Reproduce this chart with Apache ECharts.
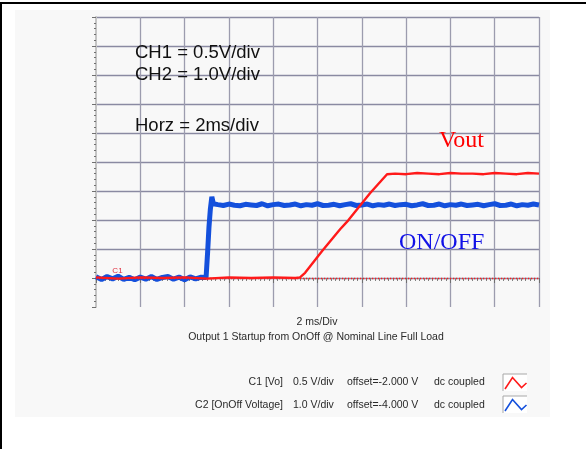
<!DOCTYPE html>
<html>
<head>
<meta charset="utf-8">
<script src="https://cdn.jsdelivr.net/npm/echarts@6/dist/echarts.min.js"></script>
<style>
  html, body { margin: 0; padding: 0; background: #ffffff; }
  #chart { width: 586px; height: 449px; }
</style>
</head>
<body>
<div id="chart"></div>
<script>
// Startup capture: time in ms, channel readings in volts.
// CH1 = Vo (0.5 V/div, offset -2.000 V), CH2 = OnOff voltage (1.0 V/div, offset -4.000 V)

const ch2Time = [
  0, 0.25, 0.5, 0.75, 1, 1.25, 1.5, 1.75, 2, 2.25, 2.5, 2.75, 3, 3.25, 3.5, 3.75, 4, 4.25, 4.5, 4.75,
  4.97, 5.04, 5.1, 5.16, 5.23, 5.3,
  5.5, 5.75, 6, 6.25, 6.5, 6.75, 7, 7.25, 7.5, 7.75,
  8, 8.25, 8.5, 8.75, 9, 9.25, 9.5, 9.75, 10, 10.25,
  10.5, 10.75, 11, 11.25, 11.5, 11.75, 12, 12.25, 12.5, 12.75,
  13, 13.25, 13.5, 13.75, 14, 14.25, 14.5, 14.75, 15, 15.25,
  15.5, 15.75, 16, 16.25, 16.5, 16.75, 17, 17.25, 17.5, 17.75,
  18, 18.25, 18.5, 18.75, 19, 19.25, 19.5, 19.75, 20
];
const ch2Volt = [
  0.04, -0.05, 0.05, -0.03, 0.06, -0.05, 0.02, -0.06, 0.03, -0.04, 0.05, -0.05, 0.02, 0.05, -0.04, 0.03, -0.06, 0.04, -0.03, 0.03,
  0.02, 0.9, 1.75, 2.35, 2.8, 2.56,
  2.53, 2.50, 2.55, 2.51, 2.49, 2.54, 2.52, 2.50, 2.56, 2.49,
  2.53, 2.55, 2.50, 2.52, 2.55, 2.49, 2.53, 2.51, 2.56, 2.50,
  2.51, 2.54, 2.49, 2.53, 2.56, 2.50, 2.52, 2.55, 2.49, 2.53,
  2.51, 2.55, 2.50, 2.53, 2.54, 2.49, 2.52, 2.56, 2.50, 2.51,
  2.55, 2.49, 2.53, 2.51, 2.55, 2.50, 2.52, 2.54, 2.49, 2.53,
  2.56, 2.50, 2.51, 2.55, 2.49, 2.53, 2.51, 2.55, 2.52
];

const ch1Time = [
  0, 1, 2, 3, 4, 5, 6, 7, 8, 9,
  9.21, 9.44, 10.2, 11.02, 11.38, 11.78, 12.37, 13.14,
  13.5, 14, 14.5, 15, 15.5, 16, 16.5, 17, 17.5, 18, 18.5, 19, 19.5, 20
];
const ch1Volt = [
  0.01, -0.01, 0.01, 0.0, 0.01, -0.01, 0.01, 0.0, 0.01, 0.0,
  0.01, 0.09, 0.46, 0.84, 0.99, 1.18, 1.46, 1.79,
  1.80, 1.79, 1.81, 1.80, 1.79, 1.81, 1.80, 1.80, 1.79, 1.81, 1.80, 1.79, 1.81, 1.80
];

// Channel settings: volts per division and the scope offset
const ch1Scale = 0.5, ch1Offset = -2.0;
const ch2Scale = 1.0, ch2Offset = -4.0;

// Ground reference marker and its tag position for CH1
const ch1Ground = 0;
const ch1Tag = [0.97, 0.13];

const annotations = ['CH1 = 0.5V/div', 'CH2 = 1.0V/div', 'Horz = 2ms/div'];
const axisTitle = '2 ms/Div';
const plotTitle = 'Output 1 Startup from OnOff @ Nominal Line Full Load';
const legendRows = [
  ['C1 [Vo]', '0.5 V/div', 'offset=-2.000 V', 'dc coupled'],
  ['C2 [OnOff Voltage]', '1.0 V/div', 'offset=-4.000 V', 'dc coupled']
];

const RED = '#ff1a1a';
const BLUE = '#1450dc';
const GRID_H = '#8a8aa2';
const GRID_V = '#9c9cae';

function zip(t, v) { return t.map((x, i) => [x, v[i]]); }

// ten divisions each way; screen centre sits at -offset
function channelAxis(scale, offset, show) {
  const centre = -offset;
  return {
    type: 'value',
    position: 'left',
    min: centre - 5 * scale,
    max: centre + 5 * scale,
    interval: scale,
    show: show,
    axisLabel: { show: false },
    axisLine: { show: true, onZero: false, lineStyle: { color: '#c4c4c4', width: 2 } },
    axisTick: { show: true, length: 4, lineStyle: { color: '#707070', width: 1 } },
    minorTick: { show: true, splitNumber: 5, length: 2, lineStyle: { color: '#707070', width: 1 } },
    splitLine: {
      show: true,
      showMinLine: false,
      lineStyle: {
        color: [GRID_H, GRID_H, GRID_H, GRID_H, GRID_H, GRID_H, GRID_H, GRID_H, GRID_H, GRID_H, '#b8b8b8'],
        width: 1.3
      }
    }
  };
}

function legendIcon(y, color) {
  return [
    { type: 'rect', shape: { x: 503, y: y, width: 24, height: 17 },
      style: { fill: '#ffffff', stroke: null } },
    { type: 'polyline', shape: { points: [[503, y + 17], [503, y], [527, y]] },
      style: { stroke: '#a8a8a8', lineWidth: 1, fill: null } },
    { type: 'polyline', shape: { points: [[505, y + 15], [512.5, y + 3.5], [521.5, y + 13.5], [526.5, y + 9]] },
      style: { stroke: color, lineWidth: 1.6, fill: null } }
  ];
}

const smallFont = '10.5px "Liberation Sans", Arial, sans-serif';
const legendGraphics = [];
legendRows.forEach((row, i) => {
  const y = 382 + i * 23;
  legendGraphics.push(
    { type: 'text', style: { x: 283, y: y, text: row[0], font: smallFont, fill: '#2a2a2a', textAlign: 'right', textVerticalAlign: 'middle' } },
    { type: 'text', style: { x: 293, y: y, text: row[1], font: smallFont, fill: '#2a2a2a', textAlign: 'left', textVerticalAlign: 'middle' } },
    { type: 'text', style: { x: 347, y: y, text: row[2], font: smallFont, fill: '#2a2a2a', textAlign: 'left', textVerticalAlign: 'middle' } },
    { type: 'text', style: { x: 434, y: y, text: row[3], font: smallFont, fill: '#2a2a2a', textAlign: 'left', textVerticalAlign: 'middle' } }
  );
  legendGraphics.push(...legendIcon(374 + i * 22, i === 0 ? RED : BLUE));
});

const bigFont = '18.5px "Liberation Sans", Arial, sans-serif';
const serifFont = '24px "Liberation Serif", "Times New Roman", serif';

const chart = echarts.init(document.getElementById('chart'), null, { renderer: 'canvas' });

chart.setOption({
  animation: false,
  backgroundColor: '#ffffff',
  grid: { left: 96, top: 17, width: 443, height: 290, show: false },
  xAxis: {
    type: 'value',
    min: 0,
    max: 20,
    interval: 2,
    axisLabel: { show: false },
    axisLine: { show: false },
    axisTick: { show: true, length: 5, lineStyle: { color: '#707070', width: 1 } },
    minorTick: { show: true, splitNumber: 10, length: 3, lineStyle: { color: '#808080', width: 1 } },
    splitLine: {
      show: true,
      showMinLine: false,
      lineStyle: {
        color: [GRID_V, GRID_V, GRID_V, GRID_V, GRID_V, GRID_V, GRID_V, GRID_V, GRID_V, GRID_V, '#cfcfcf'],
        width: 1.3
      }
    }
  },
  yAxis: [
    channelAxis(ch1Scale, ch1Offset, true),
    channelAxis(ch2Scale, ch2Offset, false)
  ],
  series: [
    {
      name: 'C2 [OnOff Voltage]',
      type: 'line',
      yAxisIndex: 1,
      data: zip(ch2Time, ch2Volt),
      showSymbol: false,
      symbol: 'none',
      lineStyle: { color: BLUE, width: 5, join: 'bevel' },
      z: 3
    },
    {
      name: 'C1 [Vo]',
      type: 'line',
      yAxisIndex: 0,
      data: zip(ch1Time, ch1Volt),
      showSymbol: false,
      symbol: 'none',
      lineStyle: { color: RED, width: 2.4 },
      z: 4,
      markLine: {
        silent: true,
        symbol: ['none', 'none'],
        label: { show: false },
        lineStyle: { color: RED, type: [1.2, 1.8], width: 1.3 },
        data: [{ yAxis: ch1Ground }]
      },
      markPoint: {
        silent: true,
        symbol: 'circle',
        symbolSize: 1,
        itemStyle: { color: 'rgba(0,0,0,0)' },
        data: [{
          coord: ch1Tag,
          label: { show: true, formatter: 'C1', color: '#e03040', fontSize: 8, fontFamily: 'Liberation Sans', position: 'inside' }
        }]
      }
    }
  ],
  graphic: [
    // grey instrument panel
    { type: 'rect', z: -10, shape: { x: 15, y: 10, width: 535, height: 407 }, style: { fill: '#f8f8f8' } },
    // frame edges
    { type: 'rect', z: -5, shape: { x: 0, y: 2, width: 586, height: 2 }, style: { fill: '#000000' } },
    { type: 'rect', z: -5, shape: { x: 0, y: 2, width: 2, height: 447 }, style: { fill: '#000000' } },
    // scope annotations
    { type: 'text', z: 10, style: { x: 135, y: 53, text: annotations[0], font: bigFont, fill: '#111', textVerticalAlign: 'middle' } },
    { type: 'text', z: 10, style: { x: 135, y: 74.5, text: annotations[1], font: bigFont, fill: '#111', textVerticalAlign: 'middle' } },
    { type: 'text', z: 10, style: { x: 135, y: 126, text: annotations[2], font: bigFont, fill: '#111', textVerticalAlign: 'middle' } },
    { type: 'text', z: 10, style: { x: 439, y: 141, text: 'Vout', font: serifFont, fill: '#ff0000', textVerticalAlign: 'middle' } },
    { type: 'text', z: 10, style: { x: 399, y: 243, text: 'ON/OFF', font: serifFont, fill: '#1212e6', textVerticalAlign: 'middle' } },
    // captions under the plot
    { type: 'text', style: { x: 317, y: 322, text: axisTitle, font: smallFont, fill: '#2a2a2a', textAlign: 'center', textVerticalAlign: 'middle' } },
    { type: 'text', style: { x: 316, y: 337, text: plotTitle, font: smallFont, fill: '#2a2a2a', textAlign: 'center', textVerticalAlign: 'middle' } },
    ...legendGraphics
  ]
});
</script>
</body>
</html>
